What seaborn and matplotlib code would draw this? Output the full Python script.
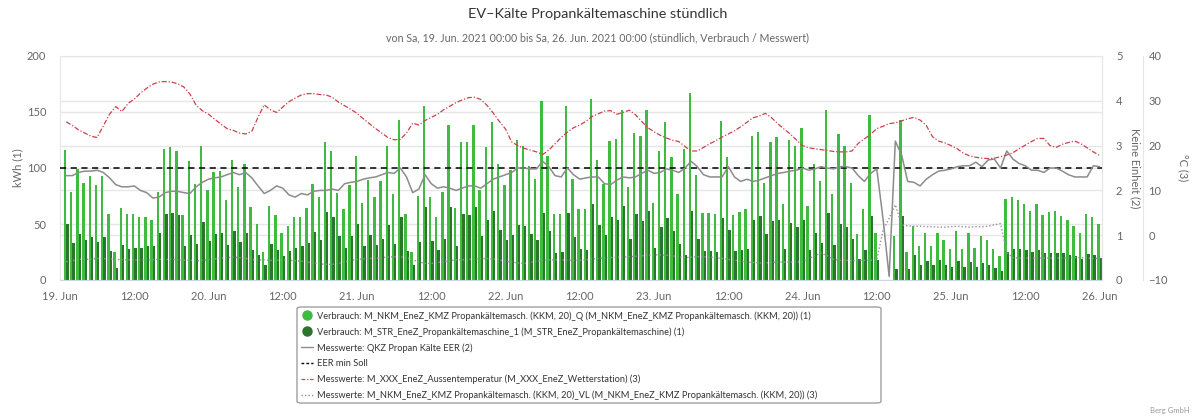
import numpy as np
import pandas as pd
import seaborn as sns
import matplotlib.pyplot as plt
from matplotlib.lines import Line2D
from matplotlib.patches import FancyBboxPatch

# hour-end timestamps: 19. Jun 01:00 ... 26. Jun 00:00 (hours since 19. Jun 00:00)
hours = list(range(1, 169))

# Verbrauch KKM 20 _Q (kWh)
kkm_q = [116, 79, 99, 87, 93, 85, 93, 59, 25, 64,
         59, 59, 56, 56, 54, 79, 117, 119, 115, 58,
         106, 86, 120, 80, 96, 97, 71, 107, 83, 104,
         65, 50, 25, 66, 58, 42, 48, 56, 56, 64,
         86, 74, 123, 115, 78, 63, 85, 111, 69, 89,
         74, 88, 120, 77, 143, 59, 25, 75, 155, 74,
         56, 79, 138, 64, 123, 123, 138, 80, 119, 141,
         104, 85, 98, 125, 120, 102, 90, 160, 111, 59,
         59, 155, 90, 63, 63, 162, 107, 86, 124, 126,
         152, 83, 131, 129, 152, 69, 115, 141, 110, 77,
         117, 167, 94, 60, 60, 59, 142, 110, 58, 61,
         63, 129, 132, 87, 123, 128, 68, 125, 120, 136,
         66, 104, 88, 152, 77, 130, 120, 87, 41, 63,
         147, 42, 0, 0, 39, 143, 25, 48, 30, 42,
         30, 42, 36, 28, 44, 28, 42, 29, 39, 36,
         28, 21, 72, 74, 71, 68, 62, 68, 58, 61,
         62, 57, 54, 48, 42, 59, 56, 50]

# Verbrauch STR Propankaeltemaschine_1 (kWh)
str_1 = [50, 33, 41, 36, 38, 34, 38, 26, 11, 31,
         28, 29, 29, 30, 30, 42, 59, 60, 58, 30,
         40, 32, 52, 35, 41, 42, 31, 44, 34, 42,
         27, 22, 13, 32, 27, 21, 26, 29, 30, 33,
         43, 36, 61, 56, 39, 29, 39, 50, 30, 40,
         31, 37, 49, 32, 56, 26, 13, 34, 65, 35,
         27, 37, 65, 30, 59, 58, 65, 39, 54, 62,
         45, 36, 40, 49, 48, 41, 36, 60, 44, 24,
         25, 60, 38, 28, 27, 68, 49, 40, 56, 54,
         66, 37, 59, 53, 62, 29, 47, 55, 44, 32,
         22, 62, 37, 26, 26, 25, 55, 45, 26, 27,
         28, 54, 57, 41, 53, 54, 28, 51, 47, 54,
         27, 42, 33, 60, 31, 50, 47, 37, 19, 27,
         57, 18, 0, 0, 10, 57, 10, 22, 13, 17,
         13, 18, 13, 12, 17, 12, 16, 12, 15, 13,
         11, 8, 25, 28, 28, 27, 25, 27, 24, 24,
         24, 24, 22, 21, 19, 23, 22, 20]

# QKZ Propan Kaelte EER (Keine Einheit)
eer = [2.33, 2.33, 2.40, 2.43, 2.43, 2.45, 2.40, 2.28, 2.13, 2.08,
       2.08, 2.10, 2.00, 1.95, 1.83, 1.85, 1.95, 1.98, 1.98, 1.95,
       1.93, 2.08, 2.18, 2.25, 2.28, 2.30, 2.35, 2.40, 2.35, 2.40,
       2.28, 2.10, 1.93, 2.00, 2.10, 2.05, 1.90, 1.85, 1.93, 1.90,
       1.98, 2.00, 2.00, 2.03, 2.00, 2.15, 2.18, 2.20, 2.25, 2.28,
       2.30, 2.35, 2.40, 2.38, 2.50, 2.30, 1.95, 2.03, 2.35, 2.15,
       2.05, 2.08, 2.05, 2.00, 2.05, 2.10, 2.10, 2.05, 2.15, 2.25,
       2.30, 2.35, 2.40, 2.50, 2.50, 2.48, 2.48, 2.65, 2.53, 2.33,
       2.30, 2.50, 2.35, 2.25, 2.28, 2.30, 2.30, 2.15, 2.13, 2.23,
       2.30, 2.28, 2.30, 2.38, 2.45, 2.38, 2.40, 2.48, 2.45, 2.40,
       2.50, 2.65, 2.53, 2.35, 2.30, 2.30, 2.30, 2.53, 2.30, 2.20,
       2.25, 2.20, 2.23, 2.28, 2.33, 2.38, 2.40, 2.43, 2.45, 2.50,
       2.45, 2.48, 2.53, 2.50, 2.48, 2.53, 2.53, 2.50, 2.33, 2.20,
       2.38, 2.48, 1.38, 0.08, 3.10, 2.80, 2.20, 2.18, 2.10, 2.25,
       2.35, 2.43, 2.45, 2.48, 2.53, 2.55, 2.55, 2.63, 2.53, 2.68,
       2.70, 2.50, 2.88, 2.70, 2.60, 2.55, 2.45, 2.45, 2.40, 2.50,
       2.50, 2.43, 2.35, 2.30, 2.30, 2.30, 2.55, 2.53]

eer_min_soll = 2.5

# Aussentemperatur (degC)
aussen = [25.3, 24.5, 23.5, 22.8, 22.1, 21.8, 24.4, 27.0, 28.7, 27.6,
          29.4, 30.4, 31.7, 32.8, 33.7, 34.2, 34.3, 34.2, 33.8, 33.1,
          31.5, 29.0, 27.8, 27.0, 25.9, 24.8, 23.8, 23.4, 22.8, 22.6,
          23.2, 26.3, 29.1, 28.0, 27.4, 28.6, 29.8, 30.6, 31.3, 31.6,
          31.6, 31.4, 31.3, 30.8, 29.7, 28.9, 28.1, 27.2, 26.0, 24.9,
          23.8, 22.8, 21.8, 21.3, 21.4, 22.8, 25.0, 24.6, 25.6, 26.3,
          27.0, 28.0, 28.8, 29.6, 30.2, 30.7, 30.8, 30.3, 29.0, 27.3,
          25.4, 23.7, 20.8, 20.0, 19.4, 19.0, 18.6, 18.0, 19.0, 20.4,
          21.8, 23.0, 24.0, 24.6, 25.4, 26.5, 27.1, 27.7, 27.8, 27.0,
          27.4, 27.9, 26.9, 25.4, 24.0, 23.1, 22.3, 21.7, 21.2, 20.9,
          19.8, 18.8, 18.8, 19.6, 20.4, 21.1, 21.9, 22.6, 23.3, 24.2,
          25.2, 26.2, 26.6, 27.2, 26.2, 24.9, 23.7, 22.6, 21.3, 20.0,
          19.5, 19.3, 19.1, 18.9, 18.7, 18.6, 18.6, 18.8, 20.5, 21.5,
          22.5, 23.8, 24.3, 24.9, 25.1, 25.5, 26.0, 26.3, 25.7, 24.5,
          22.0, 21.0, 20.6, 20.0, 19.3, 18.3, 17.7, 17.4, 17.2, 17.1,
          17.2, 17.5, 17.9, 18.4, 19.3, 20.1, 20.9, 21.6, 21.6, 20.0,
          19.6, 20.3, 20.7, 21.0, 20.4, 19.5, 18.6, 17.8]

# Vorlauf KKM 20 (degC)
vl = [-5.9, -5.7, -5.4, -5.4, -5.3, -5.2, -5.2, -5.3, -5.4, -5.5,
      -5.5, -5.5, -5.6, -5.5, -5.5, -5.4, -5.4, -5.4, -5.5, -5.6,
      -5.6, -5.7, -5.6, -5.5, -5.3, -5.1, -5.0, -4.9, -5.0, -5.2,
      -5.4, -5.5, -5.5, -5.6, -5.6, -5.5, -5.6, -5.7, -5.8, -6.0,
      -6.2, -6.4, -6.5, -6.5, -6.3, -6.0, -5.6, -5.4, -5.3, -5.2,
      -5.1, -5.0, -4.9, -4.8, -4.8, -5.0, -5.5, -6.0, -6.3, -6.3,
      -6.1, -5.9, -5.7, -5.5, -5.5, -5.4, -5.3, -5.2, -5.2, -5.3,
      -5.5, -5.8, -6.0, -6.2, -6.3, -6.1, -5.8, -5.6, -5.5, -5.5,
      -5.5, -5.6, -5.6, -5.6, -5.5, -5.3, -5.2, -5.1, -5.0, -4.9,
      -4.9, -4.8, -4.7, -4.6, -4.5, -4.4, -4.4, -4.5, -4.6, -4.8,
      -5.0, -4.9, -4.8, -4.8, -4.9, -5.0, -5.2, -5.4, -5.6, -5.8,
      -6.0, -6.1, -6.2, -6.2, -6.1, -6.0, -6.0, -6.0, -6.0, -5.9,
      -5.2, -4.6, -4.0, -4.6, -5.4, -5.6, -5.6, -5.7, -5.6, -5.6,
      -5.6, -5.5, 1.0, 3.8, 6.8, 2.3, 2.1, 2.0, 2.0, 1.9,
      1.9, 1.8, 1.8, 1.9, 2.0, 1.9, 1.8, 1.9, 1.9, 2.0,
      2.3, 2.6, -3.8, -5.0, -5.1, -5.1, -5.1, -5.1, -5.1, -5.1,
      -5.1, -5.1, -5.1, -5.0, -5.0, -5.1, -5.2, -5.2]

tick_hours = list(range(0, 169, 12))
tick_labels = ["19. Jun", "12:00", "20. Jun", "12:00", "21. Jun", "12:00",
               "22. Jun", "12:00", "23. Jun", "12:00", "24. Jun", "12:00",
               "25. Jun", "12:00", "26. Jun"]

name_q = "Verbrauch: M_NKM_EneZ_KMZ Propankältemasch. (KKM, 20)_Q (M_NKM_EneZ_KMZ Propankältemasch. (KKM, 20)) (1)"
name_str = "Verbrauch: M_STR_EneZ_Propankältemaschine_1 (M_STR_EneZ_Propankältemaschine) (1)"
name_eer = "Messwerte: QKZ Propan Kälte EER (2)"
name_soll = "EER min Soll"
name_temp = "Messwerte: M_XXX_EneZ_Aussentemperatur (M_XXX_EneZ_Wetterstation) (3)"
name_vl = "Messwerte: M_NKM_EneZ_KMZ Propankältemasch. (KKM, 20)_VL (M_NKM_EneZ_KMZ Propankältemasch. (KKM, 20)) (3)"

c_light = "#3fbb3f"
c_dark = "#2b742b"
c_grey = "#8c8c8c"
c_red = "#c9434b"
c_vl = "#9c8fa6"
c_grid = "#e6e6e6"
c_text = "#666666"

sns.set_style("white")
plt.rcParams["font.family"] = ["Lato", "DejaVu Sans"]

W, H = 1195, 419
fig = plt.figure(figsize=(W / 100, H / 100), dpi=100)
ax = fig.add_axes([60 / W, 1 - 280 / H, (1102 - 60) / W, (280 - 56) / H])

bars = pd.DataFrame({
    "t": hours * 2,
    "kwh": kkm_q + str_1,
    "serie": ["q"] * len(hours) + ["str"] * len(hours),
})
sns.barplot(data=bars, x="t", y="kwh", hue="serie", hue_order=["q", "str"],
            palette=[c_light, c_dark], native_scale=True, dodge=True,
            width=0.76, errorbar=None, saturation=1, linewidth=0,
            legend=False, ax=ax)

ax.set_xlim(0, 168.4)
ax.set_ylim(0, 200)
ax.set_yticks([0, 50, 100, 150, 200])
ax.set_yticks([40, 80, 120, 160], minor=True)
ax.grid(True, axis="y", which="both", color=c_grid, lw=1)
ax.set_axisbelow(True)
ax.set_xticks(tick_hours, tick_labels)
ax.set_xlabel("")
ax.set_ylabel("")
ax.tick_params(axis="x", length=5, width=1, color="#ccd6eb", labelsize=8,
               labelcolor=c_text, pad=3)
ax.tick_params(axis="y", which="both", length=0, labelsize=8, labelcolor=c_text, pad=10)
for s in ["left", "right", "top"]:
    ax.spines[s].set_color(c_grid)
ax.spines["bottom"].set_color("#ccd6eb")

ax2 = ax.twinx()
ax2.axhline(eer_min_soll, color="black", lw=1.1, linestyle=(0, (4, 3)))
sns.lineplot(x=hours, y=eer, ax=ax2, color=c_grey, lw=1.1)
ax2.set_ylim(0, 5)
ax2.set_yticks([0, 1, 2, 3, 4, 5])
ax2.tick_params(axis="y", length=0, labelsize=8, labelcolor=c_text, pad=10)
ax2.grid(False)

ax3 = ax.twinx()
sns.lineplot(x=hours, y=vl, ax=ax3, color=c_vl, lw=1, linestyle=(0, (1, 1.5)))
sns.lineplot(x=hours, y=aussen, ax=ax3, color=c_red, lw=0.9,
             linestyle=(0, (4, 1.5, 1, 1.5)))
ax3.set_ylim(-10, 40)
ax3.set_yticks([-10, 0, 10, 20, 30, 40])
ax3.spines["right"].set_position(("outward", 41 * 0.72))
ax3.tick_params(axis="y", length=0, labelsize=8, labelcolor=c_text, pad=4)
ax3.grid(False)
for a in (ax2, ax3):
    a.set_xlim(0, 168.4)
    a.set_ylabel("")
    for s in ["left", "top", "bottom"]:
        a.spines[s].set_visible(False)
    a.spines["right"].set_color(c_grid)

fig.text(0.5, 1 - 14 / H, "EV–Kälte Propankältemaschine stündlich",
         ha="center", va="center", fontsize=10.4, color="#333333")
fig.text(0.5, 1 - 38 / H,
         "von Sa, 19. Jun. 2021 00:00 bis Sa, 26. Jun. 2021 00:00 (stündlich, Verbrauch / Messwert)",
         ha="center", va="center", fontsize=7.7, color=c_text)
fig.text(18 / W, 1 - 168 / H, "kWh (1)", rotation=90, ha="center", va="center",
         fontsize=8, color=c_text)
fig.text(1135 / W, 1 - 168 / H, "Keine Einheit (2)", rotation=270, ha="center",
         va="center", fontsize=8, color=c_text)
fig.text(1183 / W, 1 - 168 / H, "°C (3)", rotation=270, ha="center",
         va="center", fontsize=8, color=c_text)
fig.text(1190 / W, 1 - 410 / H, "Berg GmbH", ha="right", va="center",
         fontsize=5.5, color="#999999")

fig.patches.append(FancyBboxPatch((297 / W, 1 - 403 / H), (881 - 297) / W, (403 - 307) / H,
                                  boxstyle="round,pad=0,rounding_size=0.004",
                                  transform=fig.transFigure, facecolor="white",
                                  edgecolor="#a0a0a0", lw=1, zorder=0))
handles = [
    Line2D([], [], ls="none", marker="o", ms=6.5, color=c_light),
    Line2D([], [], ls="none", marker="o", ms=6.5, color=c_dark),
    Line2D([], [], color=c_grey, lw=1),
    Line2D([], [], color="black", lw=1, ls=(0, (2, 1.5))),
    Line2D([], [], color=c_red, lw=0.9, ls=(0, (3, 1.5, 1, 1.5))),
    Line2D([], [], color=c_vl, lw=1, ls=(0, (1, 1.5))),
]
fig.legend(handles, [name_q, name_str, name_eer, name_soll, name_temp, name_vl],
           loc="upper left", bbox_to_anchor=(301 / W, 1 - 311 / H), frameon=False,
           fontsize=6.7, handlelength=1.3, handletextpad=0.4, labelspacing=0.7,
           borderpad=0, borderaxespad=0, labelcolor="#333333")

fig.savefig("out.png", dpi=100)
